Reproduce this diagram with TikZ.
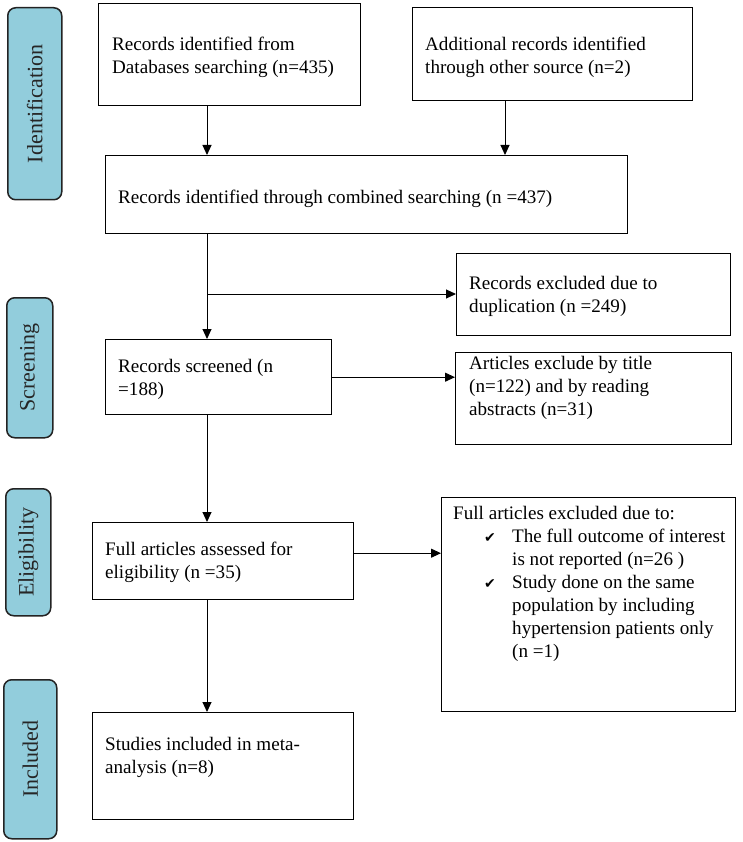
\documentclass[tikz,border=0pt]{standalone}
\usepackage{fontspec}
\setmainfont{Liberation Serif}
\newfontfamily\ckfont{DejaVu Sans}
\usetikzlibrary{arrows.meta}
\definecolor{labfill}{RGB}{146,205,220}
\definecolor{labline}{RGB}{35,35,35}
\newcommand\Tstr{\rule{0pt}{14pt}}
\newcommand\ckm{{\ckfont\fontsize{14}{14}\selectfont ✔}}
\begin{document}
\begin{tikzpicture}[x=1pt,y=-1pt,
  box/.style={draw=black,line width=1.4pt,inner sep=0pt,anchor=north west},
  txt/.style={anchor=north west,inner sep=0pt,align=left,font=\fontsize{19.1}{23}\selectfont},
  lab/.style={draw=labline,fill=labfill,line width=1.5pt,rounded corners=8pt,inner sep=0pt,anchor=north west},
  labtxt/.style={rotate=90,inner sep=0pt,font=\fontsize{22}{22}\selectfont,text=black!85},
  arr/.style={line width=1pt,-{Triangle[length=10pt,width=9pt]}}]
\useasboundingbox (0,0) rectangle (743,842);
% side labels
\node[lab,minimum width=54pt,minimum height=192pt] (lid) at (7,7) {};
\node[labtxt] (lidt) at (lid.center) {Identification};
\node[lab,minimum width=46pt,minimum height=140pt] (lsc) at (6,297) {};
\node[labtxt] (lsct) at (lsc.center) {Screening};
\node[lab,minimum width=45pt,minimum height=127pt] (lel) at (5,488) {};
\node[labtxt] (lelt) at (lel.center) {Eligibility};
\node[lab,minimum width=53pt,minimum height=159pt] (lin) at (3,679) {};
\node[labtxt] (lint) at (lin.center) {Included};
% boxes
\node[box,minimum width=262pt,minimum height=102pt] (b1) at (98,3) {};
\node[txt] (b1t) at (112,36) {\Tstr Records identified from\\Databases searching (n=435)};
\node[box,minimum width=280pt,minimum height=93pt] (b2) at (412,7) {};
\node[txt] (b2t) at (425,36) {\Tstr Additional records identified\\through other source (n=2)};
\node[box,minimum width=522pt,minimum height=78pt] (cb) at (105,155) {};
\node[txt] (cbt) at (118,189) {\Tstr Records identified through combined searching (n =437)};
\node[box,minimum width=274pt,minimum height=82pt] (dup) at (456,253) {};
\node[txt] (dupt) at (469,275) {\Tstr Records excluded due to\\duplication (n =249)};
\node[box,minimum width=226pt,minimum height=75pt] (scr) at (105,339) {};
\node[txt] (scrt) at (118,358) {\Tstr Records screened (n\\=188)};
\node[box,minimum width=276pt,minimum height=92pt] (art) at (455,352) {};
\node[txt] (artt) at (469,355) {\Tstr Articles exclude by title\\(n=122) and by reading\\abstracts (n=31)};
\node[box,minimum width=261pt,minimum height=77pt] (full) at (92,522) {};
\node[txt] (fullt) at (105,541) {\Tstr Full articles assessed for\\eligibility (n =35)};
\node[box,minimum width=294pt,minimum height=214pt] (fex) at (441,497) {};
\node[txt] (fext) at (453,505) {\Tstr Full articles excluded due to:\\
\hspace*{31pt}\makebox[28pt][l]{\ckm}The full outcome of interest\\
\hspace*{59pt}is not reported (n=26 )\\
\hspace*{31pt}\makebox[28pt][l]{\ckm}Study done on the same\\
\hspace*{59pt}population by including\\
\hspace*{59pt}hypertension patients only\\
\hspace*{59pt}(n =1)};
\node[box,minimum width=261pt,minimum height=107pt] (inc) at (92,712) {};
\node[txt] (inct) at (105,736) {\Tstr Studies included in meta-\\analysis (n=8)};
% connectors
\coordinate (spine) at (207,0);
\coordinate (sp2) at (505,0);
\coordinate (brk) at (207,294);
\coordinate (fa) at ([yshift=8pt]full.east);
\draw[arr] (b1.south -| spine) -- (cb.north -| spine);
\draw[arr] (b2.south -| sp2) -- (cb.north -| sp2);
\draw[arr] (cb.south -| spine) -- (scr.north -| spine);
\draw[arr] (brk) -- (dup.west |- brk);
\draw[arr] (scr.east) -- (art.west |- scr.east);
\draw[arr] (scr.south -| spine) -- (full.north -| spine);
\draw[arr] (fa) -- (fex.west |- fa);
\draw[arr] (full.south -| spine) -- (inc.north -| spine);
\end{tikzpicture}
\end{document}
